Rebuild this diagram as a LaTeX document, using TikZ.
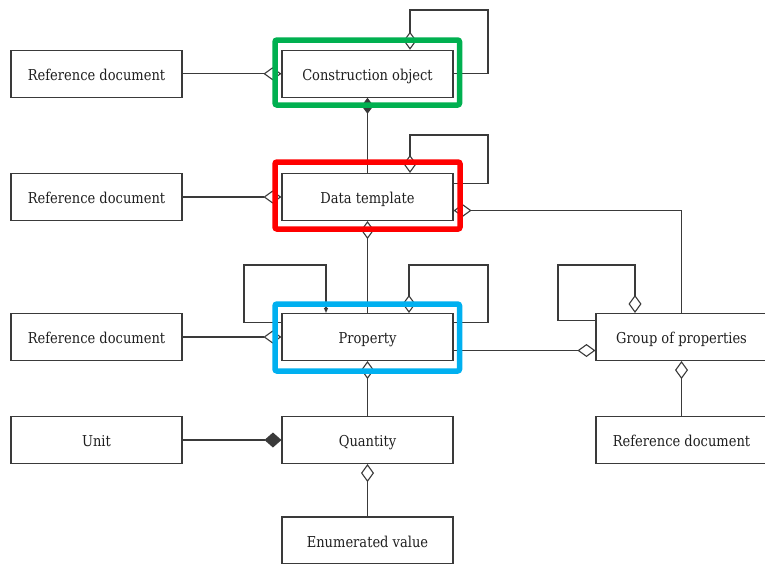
\documentclass[tikz,border=0pt]{standalone}
\usepackage{fontspec}
\setmainfont{DejaVu Serif}[FakeStretch=0.87]
\usetikzlibrary{arrows.meta}
\definecolor{ln}{HTML}{3A3A3A}
\definecolor{hgreen}{HTML}{00B050}
\definecolor{hred}{HTML}{FF0000}
\definecolor{hblue}{HTML}{00B0F0}
\tikzset{
  box/.style={draw=ln, line width=1.1pt, fill=white, minimum width=171pt, minimum height=47pt,
    inner sep=0pt, text height=13pt, text depth=0pt,
    font=\fontsize{15}{17}\selectfont, text=black!88},
  conn/.style={draw=ln, line width=1.1pt},
  agg/.style={conn, -{Diamond[open, length=18pt, width=13pt, line width=1.1pt]}},
  comp/.style={conn, -{Diamond[length=17pt, width=15pt]}},
  compsm/.style={conn, -{Diamond[length=16pt, width=12pt]}},
  selfarrow/.style={conn, -{Triangle[length=5pt, width=4pt]}},
  hl/.style={line width=5.5pt, rounded corners=2pt}
}
\begin{document}
\begin{tikzpicture}[x=1pt, y=-1pt]
\useasboundingbox[fill=white] (0,0) rectangle (765,563);
% nodes
\node[box] (ref1) at (96.5,73.75) {Reference document};
\node[box] (co) at (367.5,73.75) {Construction object};
\node[box] (ref2) at (96.5,197) {Reference document};
\node[box] (dt) at (367.5,197) {Data template};
\node[box] (ref3) at (96.5,337) {Reference document};
\node[box] (prop) at (367.5,337) {Property};
\node[box] (gop) at (681.5,337) {Group of properties};
\node[box] (unit) at (96.5,440) {Unit};
\node[box] (qty) at (367.5,440) {Quantity};
\node[box] (ref4) at (681.5,440) {Reference document};
\node[box] (enum) at (367.5,540.5) {Enumerated value};
% connectors
\draw[agg] (ref1.east) -- (co.west);
\draw[agg] (co.east) -| (488,10) -| ([xshift=42.5pt]co.north);
\draw[compsm] (dt.north) -- (co.south);
\draw[agg] (ref2.east) -- (dt.west);
\draw[agg] ([yshift=13.5pt]dt.east) -| (488,135) -| ([xshift=42.5pt]dt.north);
\draw[agg] (gop.north) |- ([yshift=-13.5pt]dt.east);
\draw[agg] (prop.north) -- (dt.south);
\draw[selfarrow] ([yshift=14.5pt]prop.west) -| (244,265) -| ([xshift=-41.5pt]prop.north);
\draw[agg] ([yshift=14.5pt]prop.east) -| (488,265) -| ([xshift=41.5pt]prop.north);
\draw[agg] (ref3.east) -- (prop.west);
\draw[agg] ([yshift=-13.5pt]prop.east) -- ([yshift=-13.5pt]gop.west);
\draw[agg] ([yshift=16.5pt]gop.west) -| (558,265) -| ([xshift=-46.5pt]gop.north);
\draw[agg] (ref4.north) -- (gop.south);
\draw[agg] (qty.north) -- (prop.south);
\draw[comp] (unit.east) -- (qty.west);
\draw[agg] (enum.north) -- (qty.south);
% highlights
\draw[hl, hgreen] (275,40) rectangle (459.5,105);
\draw[hl, hred] (275,162) rectangle (460,229);
\draw[hl, hblue] (275,304) rectangle (459.5,371);
\end{tikzpicture}
\end{document}
